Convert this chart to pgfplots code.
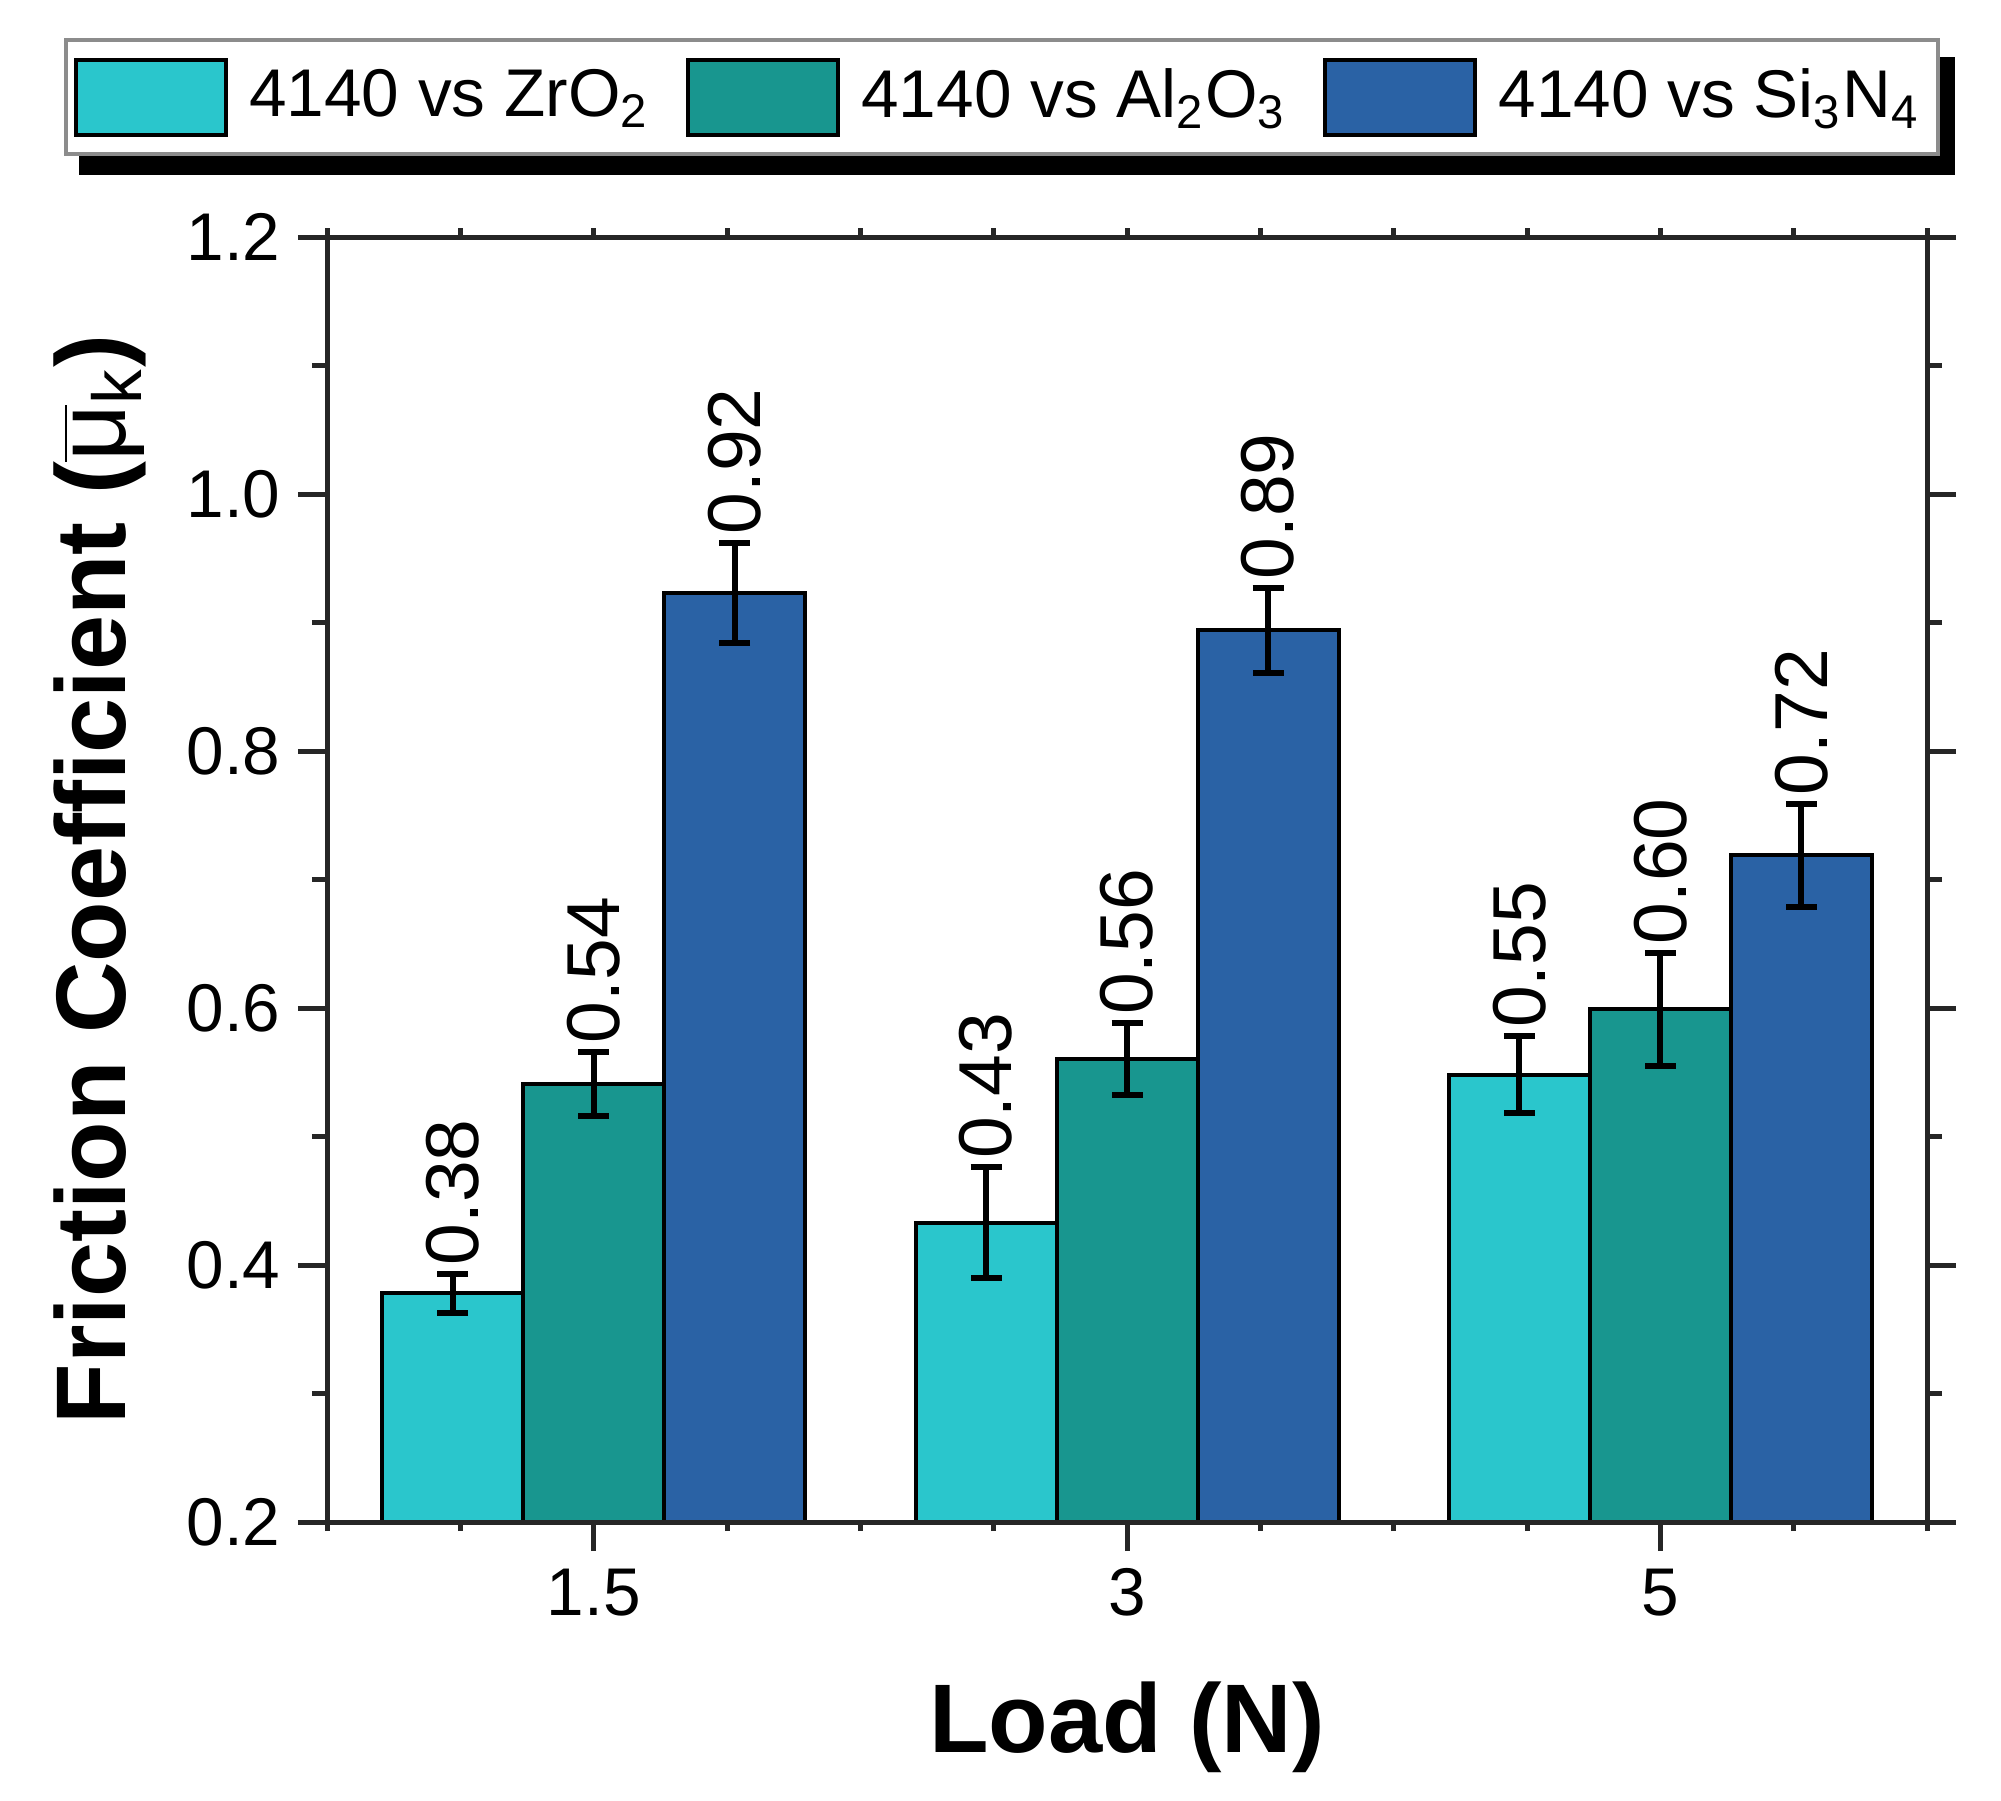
\documentclass[border=0pt]{standalone}
\usepackage{fontspec}
\setmainfont{Liberation Sans}
\usepackage{pgfplots}
\pgfplotsset{compat=1.18}
\usepackage{pgfplotstable}
\usetikzlibrary{calc}
\pgfdeclarelayer{background}
\pgfsetlayers{background,main}

\definecolor{zro}{HTML}{2AC6CC}
\definecolor{alo}{HTML}{18968F}
\definecolor{sin}{HTML}{2A62A5}

% x = load index (1.5 N, 3 N, 5 N), y = mean friction, err = half error bar
\pgfplotstableread{
x y err
0 0.378 0.015
1 0.433 0.043
2 0.548 0.030
}\zrotab
\pgfplotstableread{
x y err
0 0.541 0.025
1 0.560 0.028
2 0.599 0.044
}\alotab
\pgfplotstableread{
x y err
0 0.923 0.039
1 0.894 0.033
2 0.719 0.040
}\sintab

\pgfplotsset{
    /pgf/number format/assume math mode=true,
    swatch/.style={legend image code/.code={\draw[##1] (0pt,-7.5pt) rectangle (30pt,7.5pt); \path (32.3pt,0pt);}},
    sample/.style={draw=black, line width=0.8pt, swatch,
        error bars/y dir=both, error bars/y explicit,
        error bars/error bar style={line width=1.2pt, black},
        error bars/error mark options={rotate=90, mark size=3.1pt, line width=1.2pt, black}},
    % invisible bars that only carry the value labels above the error bars
    valuelabel/.style={draw=none, fill=none, forget plot,
        point meta=explicit,
        nodes near coords={\pgfmathprintnumber[fixed,fixed zerofill,precision=2]{\pgfplotspointmeta}},
        every node near coord/.append style={font=\fontsize{15}{17}\selectfont, black,
            rotate=90, anchor=west, inner sep=1.5pt}},
}

\begin{document}
\begin{tikzpicture}
\begin{axis}[
    name=main,
    scale only axis,
    width=320pt, height=257pt,
    xmin=-0.5, xmax=2.5,
    ymin=0.2, ymax=1.2,
    ybar=0pt, bar width=28.2pt,
    xtick={0,1,2}, xticklabels={1.5,3,5},
    xtick pos=lower,
    ytick={0.2,0.4,0.6,0.8,1.0,1.2},
    minor y tick num=1,
    ytick pos=both,
    tick align=outside,
    major tick length=5.8pt, minor tick length=3pt,
    axis line style={line width=1pt, black!85},
    major tick style={line width=1pt, black!85},
    minor tick style={line width=1pt, black!85},
    ticklabel style={font=\fontsize{13.5}{16}\selectfont},
    yticklabel style={/pgf/number format/fixed, /pgf/number format/fixed zerofill, /pgf/number format/precision=1},
    xlabel={Load (N)},
    ylabel={Friction Coefficient (\ensuremath{\overline{\hbox{\mdseries μ}}}{\mdseries\textsubscript{k}})},
    every axis x label/.style={at={(axis description cs:0.5,0)}, yshift=-46pt, anchor=base,
        font=\fontsize{19.5}{22}\selectfont\bfseries},
    every axis y label/.style={at={(axis description cs:0,0.5)}, xshift=-40.3pt, rotate=90, anchor=base,
        font=\fontsize{19.8}{22}\selectfont\bfseries},
    legend columns=3,
    legend style={name=leg, at={(0.5,1)}, anchor=south, xshift=-25pt, yshift=16.2pt,
        draw=black!45, line width=0.8pt, fill=white,
        font=\fontsize{13.5}{16}\selectfont,
        inner xsep=1.5pt, inner ysep=3.5pt,
        /tikz/every even column/.append style={column sep=5.3pt}},
]
\addplot[sample, fill=zro, bar shift=-28.2pt]
    table[x=x, y=y, y error=err] {\zrotab};
\addplot[sample, fill=alo, bar shift=0pt]
    table[x=x, y=y, y error=err] {\alotab};
\addplot[sample, fill=sin, bar shift=28.2pt]
    table[x=x, y=y, y error=err] {\sintab};
\addplot[valuelabel, bar shift=-28.2pt]
    table[x=x, y expr=\thisrow{y}+\thisrow{err}, meta=y] {\zrotab};
\addplot[valuelabel, bar shift=0pt]
    table[x=x, y expr=\thisrow{y}+\thisrow{err}, meta=y] {\alotab};
\addplot[valuelabel, bar shift=28.2pt]
    table[x=x, y expr=\thisrow{y}+\thisrow{err}, meta=y] {\sintab};
\legend{4140 vs ZrO\textsubscript{2}, 4140 vs Al\textsubscript{2}O\textsubscript{3}, 4140 vs Si\textsubscript{3}N\textsubscript{4}}
\end{axis}
% short ticks every 0.25 on the top and bottom edges
\begin{axis}[
    at={(main.south west)}, anchor=south west,
    scale only axis,
    width=320pt, height=257pt,
    xmin=-0.5, xmax=2.5,
    ymin=0.2, ymax=1.2,
    hide y axis,
    xtick={-0.5,-0.25,0,0.25,0.5,0.75,1,1.25,1.5,1.75,2,2.25,2.5},
    xticklabels={},
    xtick pos=both,
    tick align=outside,
    major tick length=1.8pt,
    axis line style={line width=1pt, black!85},
    major tick style={line width=1pt, black!85},
]
\end{axis}
% black drop shadow behind the legend box
\begin{pgfonlayer}{background}
\fill[black] ($(leg.south west)+(3pt,-3.8pt)$) rectangle ($(leg.north east)+(3pt,-3.8pt)$);
\end{pgfonlayer}
\pgfresetboundingbox
\path[use as bounding box] (-65.4pt,-55.6pt) rectangle (334.8pt,304.4pt);
\end{tikzpicture}
\end{document}
